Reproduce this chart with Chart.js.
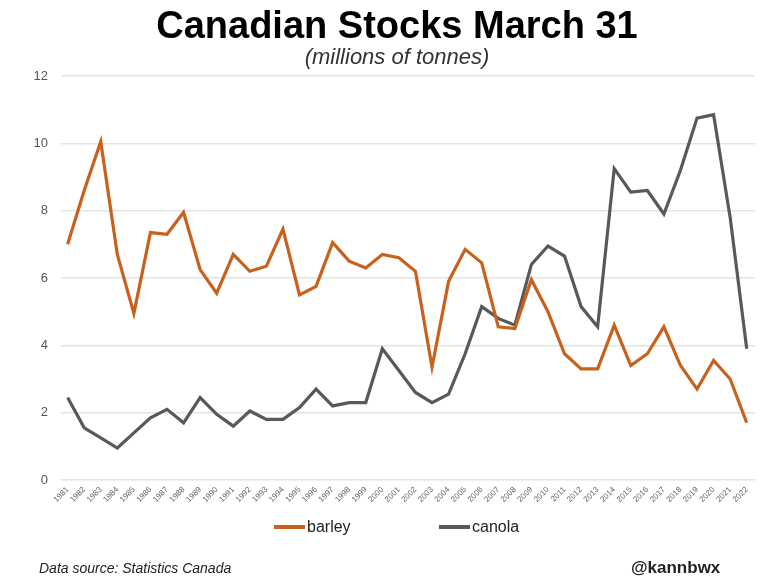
<!DOCTYPE html>
<html>
<head>
<meta charset="utf-8">
<script src="https://cdn.jsdelivr.net/npm/chart.js@4.4.0/dist/chart.umd.min.js"></script>
<style>
html,body{margin:0;padding:0;background:#fff;}
#wrap{position:relative;width:760px;height:576px;overflow:hidden;}
#c{position:absolute;left:0;top:0;}
.txt{position:absolute;font-family:"Liberation Sans",Arial,sans-serif;color:#111;white-space:nowrap;line-height:1;}
#title{left:34px;right:0;top:6px;text-align:center;font-size:38px;font-weight:bold;color:#000;}
#subtitle{left:34px;right:0;top:46px;text-align:center;font-size:22px;font-style:italic;color:#333;}
#src{left:39px;top:561px;font-size:14px;font-style:italic;color:#222;}
#handle{left:631px;top:559px;font-size:17px;font-weight:bold;color:#222;}
.lg{position:absolute;top:519px;height:16px;display:flex;align-items:center;font-family:"Liberation Sans",Arial,sans-serif;font-size:16px;color:#222;}
.lg .sw{display:inline-block;width:31px;height:4px;margin-right:2px;}
</style>
</head>
<body>
<div id="wrap">
  <canvas id="c" width="760" height="576"></canvas>
  <div id="title" class="txt">Canadian Stocks March 31</div>
  <div id="subtitle" class="txt">(millions of tonnes)</div>
  <div id="legend"></div>
  <div id="src" class="txt">Data source: Statistics Canada</div>
  <div id="handle" class="txt">@kannbwx</div>
</div>
<script>
const years = [1981,1982,1983,1984,1985,1986,1987,1988,1989,1990,1991,1992,1993,1994,1995,1996,1997,1998,1999,2000,2001,2002,2003,2004,2005,2006,2007,2008,2009,2010,2011,2012,2013,2014,2015,2016,2017,2018,2019,2020,2021,2022];
const barley = [7.0,8.6,10.05,6.7,4.95,7.35,7.3,7.95,6.25,5.55,6.7,6.2,6.35,7.45,5.5,5.75,7.05,6.5,6.3,6.7,6.6,6.2,3.35,5.9,6.85,6.45,4.55,4.5,5.95,5.0,3.75,3.3,3.3,4.6,3.4,3.75,4.55,3.4,2.7,3.55,3.0,1.7];
const canola = [2.45,1.55,1.25,0.95,1.4,1.85,2.1,1.7,2.45,1.95,1.6,2.05,1.8,1.8,2.15,2.7,2.2,2.3,2.3,3.9,3.25,2.6,2.3,2.55,3.75,5.15,4.8,4.6,6.4,6.95,6.65,5.15,4.55,9.25,8.55,8.6,7.9,9.2,10.75,10.85,7.8,3.9];
const seriesNames = ['barley','canola'];
const seriesColors = ['#C8611C','#595959'];
const yTicks = [0,2,4,6,8,10,12];

const toPoints = arr => arr.map((v,i)=>({x:years[i], y:v}));
const seriesData = [barley, canola];

const chart = new Chart(document.getElementById('c'), {
  type: 'line',
  data: {
    datasets: seriesNames.map((name,k)=>({
      label: name,
      data: toPoints(seriesData[k]),
      borderColor: seriesColors[k],
      backgroundColor: seriesColors[k],
      borderWidth: 3.2,
      pointRadius: 0,
      tension: 0,
      fill: false
    }))
  },
  options: {
    responsive: false,
    animation: false,
    devicePixelRatio: 1,
    layout: { padding: { top: 76, bottom: 66, left: 0, right: 5 } },
    plugins: { legend: { display: false }, title: { display: false }, tooltip: { enabled: false } },
    scales: {
      x: {
        type: 'linear',
        min: 1980.6,
        max: 2022.5,
        afterBuildTicks: s => { s.ticks = years.map(v => ({ value: v })); },
        afterFit: s => { s.height = 30; },
        grid: { display: false, drawTicks: false },
        border: { display: false },
        ticks: {
          autoSkip: false,
          minRotation: 45,
          maxRotation: 45,
          padding: 5,
          color: '#666',
          font: { family: 'Liberation Sans', size: 8 },
          callback: v => String(v)
        }
      },
      y: {
        min: 0,
        max: 12,
        afterBuildTicks: s => { s.ticks = yTicks.map(v => ({ value: v })); },
        afterFit: s => { s.width = 61; },
        grid: { color: '#e4e4e4', lineWidth: 1.5, drawTicks: false },
        border: { display: false },
        ticks: {
          padding: 13,
          color: '#555',
          font: { family: 'Liberation Sans', size: 13 }
        }
      }
    }
  }
});

// HTML legend generated from chart datasets
const lgPos = [274, 439];
const legendEl = document.getElementById('legend');
chart.data.datasets.forEach((ds, i) => {
  const item = document.createElement('div');
  item.className = 'lg';
  item.style.left = lgPos[i] + 'px';
  const sw = document.createElement('span');
  sw.className = 'sw';
  sw.style.background = ds.borderColor;
  const t = document.createElement('span');
  t.textContent = ds.label;
  item.appendChild(sw);
  item.appendChild(t);
  legendEl.appendChild(item);
});
</script>
</body>
</html>
